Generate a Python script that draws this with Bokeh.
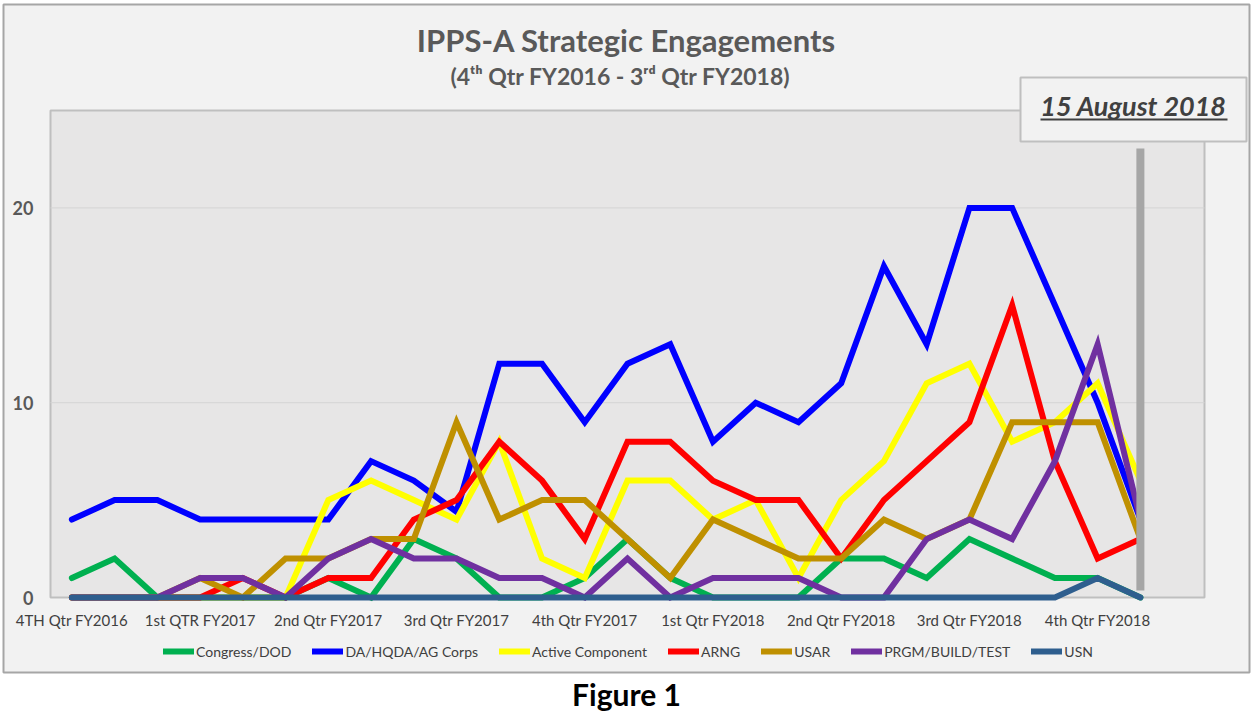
from bokeh.plotting import figure
from bokeh.models import Range1d, Legend, LegendItem
from bokeh.core.properties import value
from bokeh.embed import file_html
from bokeh.resources import INLINE

# ---------------- data (monthly, Jul 2016 .. Aug 2018) ----------------
months = list(range(26))
n_categories = 27
quarter_ticks = [0, 3, 6, 9, 12, 15, 18, 21, 24]
quarter_labels = ["4TH Qtr FY2016", "1st QTR FY2017", "2nd Qtr FY2017", "3rd Qtr FY2017",
                  "4th Qtr FY2017", "1st Qtr FY2018", "2nd Qtr FY2018", "3rd Qtr FY2018",
                  "4th Qtr FY2018"]
y_ticks = [0, 10, 20]
y_tick_labels = ["0", "10", "20"]
grid_ticks = [10, 20]
y_max = 25

congress_dod = [1, 2, 0, 0, 0, 0, 1, 0, 3, 2, 0, 0, 1, 3, 1, 0, 0, 0, 2, 2, 1, 3, 2, 1, 1, 0]
da_hqda_ag   = [4, 5, 5, 4, 4, 4, 4, 7, 6, 4.4, 12, 12, 9, 12, 13, 8, 10, 9, 11, 17, 13, 20, 20, 15, 10, 4]
active_comp  = [0, 0, 0, 0, 0, 0, 5, 6, 5, 4, 8, 2, 1, 6, 6, 4, 5, 1, 5, 7, 11, 12, 8, 9, 11, 6]
arng         = [0, 0, 0, 0, 1, 0, 1, 1, 4, 5, 8, 6, 3, 8, 8, 6, 5, 5, 2, 5, 7, 9, 15, 7, 2, 3]
usar         = [0, 0, 0, 1, 0, 2, 2, 3, 3, 9, 4, 5, 5, 3, 1, 4, 3, 2, 2, 4, 3, 4, 9, 9, 9, 3]
prgm_build   = [0, 0, 0, 1, 1, 0, 2, 3, 2, 2, 1, 1, 0, 2, 0, 1, 1, 1, 0, 0, 3, 4, 3, 7, 13, 4]
usn          = [0, 0, 0, 0, 0, 0, 0, 0, 0, 0, 0, 0, 0, 0, 0, 0, 0, 0, 0, 0, 0, 0, 0, 0, 1, 0]

series_names = ["Congress/DOD", "DA/HQDA/AG Corps", "Active Component", "ARNG", "USAR",
                "PRGM/BUILD/TEST", "USN"]
series_values = [congress_dod, da_hqda_ag, active_comp, arng, usar, prgm_build, usn]
series_colors = ["#00B050", "#0000FF", "#FFFF00", "#FF0000", "#BF9000", "#7030A0", "#2E5E8E"]

report_month = 25          # August 2018 marker
title_text = "IPPS-A Strategic Engagements"
subtitle_text = "(4\u1d57\u02b0 Qtr FY2016 - 3\u02b3\u1d48 Qtr FY2018)"
date_text = "15 August 2018"
caption_text = "Figure 1"

# ---------------- geometry ----------------
FONT = "Lato"
W, H = 1252, 712
PA_L, PA_R, PA_T, PA_B = 50, 1204, 110, 597      # plot-area pixels
X0, X1 = -0.5, n_categories - 0.5
UX = (PA_R - PA_L) / (X1 - X0)
UY = (PA_B - PA_T) / y_max

def px2x(px):
    return X0 + (px - PA_L) / UX

def py2y(py):
    return (PA_B - py) / UY

p = figure(width=W, height=H, x_range=Range1d(px2x(0), px2x(W)), y_range=Range1d(py2y(H), py2y(0)),
           output_backend="svg", toolbar_location=None,
           x_axis_location=None, y_axis_location=None,
           min_border=0, min_border_left=0, min_border_right=0, min_border_top=0, min_border_bottom=0,
           background_fill_color="white", border_fill_color="white", outline_line_color=None)
p.grid.visible = False

# chart area and plot area
p.quad(left=[px2x(3)], right=[px2x(1249)], top=[py2y(4)], bottom=[py2y(672)],
       fill_color="#F2F2F2", line_color="#A6A6A6", line_width=2)
p.quad(left=[X0], right=[X1], top=[y_max], bottom=[0],
       fill_color="#E7E6E6", line_color="#BFBFBF", line_width=2)
p.segment(x0=[X0] * len(grid_ticks), x1=[X1] * len(grid_ticks), y0=grid_ticks, y1=grid_ticks,
          line_color="#D4D4D4", line_width=1)

# axis labels
p.text(x=quarter_ticks, y=[py2y(619)] * len(quarter_ticks), text=quarter_labels,
       text_align="center", text_baseline="middle", text_font=value(FONT),
       text_font_size="15px", text_color="#404040")
p.text(x=[px2x(33)] * len(y_ticks), y=y_ticks, text=y_tick_labels,
       text_align="right", text_baseline="middle", text_font=value(FONT),
       text_font_size="18px", text_font_style="bold", text_color="#595959")

# series
items = []
for name, vals, col in zip(series_names, series_values, series_colors):
    r = p.line(months, vals, line_color=col, line_width=6, line_join="miter", line_cap="round")
    items.append(LegendItem(label=name, renderers=[r]))

# report-date marker bar
p.segment(x0=[report_month], y0=[py2y(590)], x1=[report_month], y1=[py2y(148)],
          line_color="#A6A6A6", line_width=8)

# date box
p.quad(left=[px2x(1020)], right=[px2x(1246)], top=[py2y(77)], bottom=[py2y(141)],
       fill_color="#F2F2F2", line_color="#BFBFBF", line_width=2)
p.text(x=[px2x(1133)], y=[py2y(105)], text=[date_text], text_align="center",
       text_baseline="middle", text_font=value(FONT), text_font_style="bold italic",
       text_font_size="27px", text_color="#404040")
p.segment(x0=[px2x(1040)], x1=[px2x(1227)], y0=[py2y(119)], y1=[py2y(119)],
          line_color="#404040", line_width=2)

# titles and caption
p.text(x=[px2x(626)], y=[py2y(39)], text=[title_text], text_align="center",
       text_baseline="middle", text_font=value(FONT), text_font_style="bold",
       text_font_size="31px", text_color="#595959")
p.text(x=[px2x(620)], y=[py2y(75)], text=[subtitle_text], text_align="center",
       text_baseline="middle", text_font=value(FONT), text_font_style="bold",
       text_font_size="23px", text_color="#595959")
p.text(x=[px2x(626)], y=[py2y(693)], text=[caption_text], text_align="center",
       text_baseline="middle", text_font=value(FONT), text_font_style="bold",
       text_font_size="30px", text_color="#000000")

legend = Legend(items=items, orientation="horizontal", location=(163, H - 651 - 10),
                label_text_font=FONT, label_text_font_size="14px", label_text_color="#404040",
                glyph_width=31, glyph_height=20, label_standoff=2, spacing=21, padding=0, margin=0,
                background_fill_alpha=0, border_line_color=None)
p.add_layout(legend, "center")

open("out.html", "w").write(file_html(p, INLINE))
